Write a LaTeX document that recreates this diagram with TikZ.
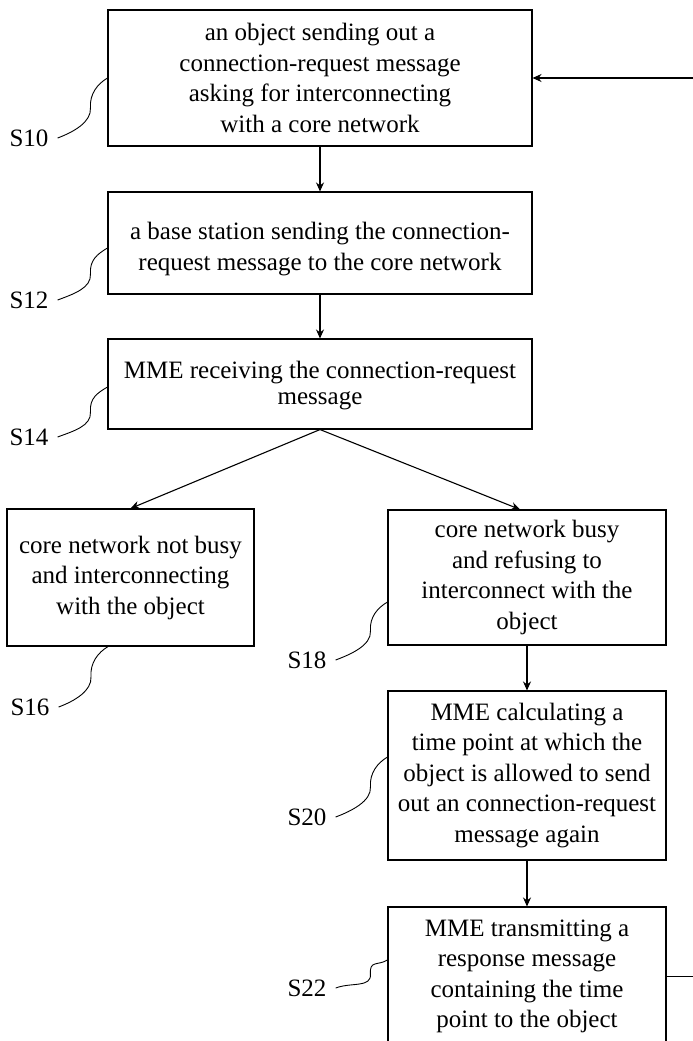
\documentclass[tikz,border=0pt]{standalone}
\usepackage{fontspec}
\setmainfont{Liberation Serif}
\usetikzlibrary{calc,arrows.meta}
\newcommand\leadline[2]{%
  \path ($(#2)+(-17,0)$) coordinate (la) ($(#1)!0.5!(#2)$) coordinate (lb);
  \draw[lead] (#1) .. controls +(16,-6) and +(1,14) .. (la |- lb)
     .. controls +(-1,-14) and +(-10,6) .. (#2);}
\begin{document}
\begin{tikzpicture}[x=1pt,y=-1pt,
  box/.style={draw, line width=1.1pt, inner sep=0pt, align=center,
    font=\fontsize{25}{30.5}\selectfont},
  lbl/.style={inner xsep=9pt, inner ysep=0pt, font=\fontsize{25}{30}\selectfont},
  arr/.style={line width=1.1pt, -{Stealth[length=9pt,width=8pt]}},
  lead/.style={line width=0.9pt},
  plain/.style={line width=1.1pt}]
\fill[white] (0,0) rectangle (693,1041);
\useasboundingbox (0,0) rectangle (693,1041);

\node[box, minimum width=424pt, minimum height=136pt] (s10) at (320,78)
  {an object sending out a\\ connection-request message\\ asking for interconnecting\\ with a core network};
\node[box, minimum width=424pt, minimum height=102pt] (s12) at (320,243)
  {\rule{0pt}{29pt}a base station sending the connection-\\ request message to the core network};
\node[box, minimum width=424pt, minimum height=90pt, font=\fontsize{25}{25.5}\selectfont] (s14) at (320,384)
  {\rule{0pt}{20pt}MME receiving the connection-request\\ message};
\node[box, minimum width=247pt, minimum height=137pt] (s16) at (130.5,577.5)
  {core network not busy\\ and interconnecting\\ with the object};
\node[box, minimum width=278pt, minimum height=135pt] (s18) at (527,577.5)
  {core network busy\\ and refusing to\\ interconnect with the\\ object};
\node[box, minimum width=278pt, minimum height=169pt] (s20) at (527,775.5)
  {MME calculating a\\ time point at which the\\ object is allowed to send\\ out an connection-request\\ message again};
\node[box, minimum width=278pt, minimum height=139pt] (s22) at (527,976.5)
  {MME transmitting a\\ response message\\ containing the time\\ point to the object};

\node[lbl] (l10) at (29,138) {S10};
\node[lbl] (l12) at (29,300) {S12};
\node[lbl] (l14) at (29,437) {S14};
\node[lbl] (l16) at (30,707) {S16};
\node[lbl] (l18) at (307,660) {S18};
\node[lbl] (l20) at (307,817) {S20};
\node[lbl] (l22) at (307,988) {S22};

\coordinate (p10) at (s10.west);
\coordinate (p12) at ($(s12.west)+(0,5)$);
\coordinate (p14) at ($(s14.west)+(0,3)$);
\coordinate (p16) at ($(s16.south)+(-22.5,0)$);
\coordinate (p18) at ($(s18.west)+(0,24.5)$);
\coordinate (p20) at ($(s20.west)+(0,-18.5)$);
\coordinate (p22) at ($(s22.west)+(0,-16.5)$);
\leadline{l10.east}{p10}
\leadline{l12.east}{p12}
\leadline{l14.east}{p14}
\leadline{l16.east}{p16}
\leadline{l18.east}{p18}
\leadline{l20.east}{p20}
\leadline{l22.east}{p22}

\draw[arr] (s10) -- (s12);
\draw[arr] (s12) -- (s14);
\draw[arr] (s14.south) -- (s16.north);
\draw[arr] (s14.south) -- ($(s18.north)+(-7,0)$);
\draw[arr] (s18) -- (s20);
\draw[arr] (s20) -- (s22);

\coordinate (fbtop) at (700,78);
\draw[arr] (fbtop) -- (s10.east);
\draw[plain] (s22.east) -- (s22.east -| fbtop);
\end{tikzpicture}
\end{document}
